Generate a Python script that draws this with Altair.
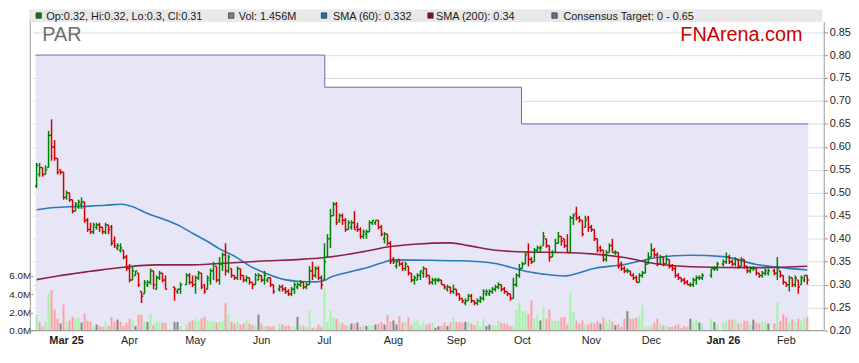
import altair as alt
import pandas as pd

# ---------------- data ----------------
start_date = "2025-02-17"
end_date = "2026-02-11"
holidays = ["2025-04-18", "2025-04-21", "2025-04-25", "2025-06-09",
            "2025-12-25", "2025-12-26", "2026-01-01", "2026-01-26"]

N = None
opens = [
 0.515,0.540,0.555,0.540,0.555,0.625,0.600,0.575,0.550,0.545,
 0.490,0.500,0.485,0.460,0.470,0.475,0.480,0.440,0.420,0.415,
 0.425,0.430,0.425,0.415,0.430,0.425,0.395,0.380,0.375,0.375,
 0.360,0.335,0.310,0.320,0.325,0.285,0.280,0.300,0.305,0.330,
 0.290,0.315,0.325,0.310,N,N,0.295,0.285,0.290,N,
 0.300,0.320,0.305,0.300,0.315,0.325,0.300,0.290,0.310,0.330,
 0.340,0.310,0.345,0.365,0.330,0.335,0.320,0.315,0.335,0.320,
 0.310,0.315,0.305,0.300,0.310,0.320,0.310,0.310,0.315,0.300,
 N,0.290,0.295,0.290,0.285,0.280,0.290,0.295,0.300,0.305,
 0.295,0.300,0.330,0.320,0.335,0.315,0.310,0.360,0.400,0.450,
 0.475,0.440,0.450,0.440,0.420,0.425,0.435,0.425,0.420,0.405,
 0.410,0.415,0.435,0.435,0.440,0.425,0.400,0.410,0.390,0.355,
 0.340,0.355,0.345,0.335,0.340,0.325,0.310,0.310,0.320,0.325,
 0.335,0.320,0.305,0.310,0.310,0.310,0.300,0.290,0.295,0.285,
 0.290,0.280,0.270,0.260,0.265,0.275,0.265,0.260,0.265,0.270,
 0.280,0.280,0.285,0.290,0.295,0.300,0.290,0.285,0.280,0.270,
 0.300,0.320,0.335,0.345,0.370,0.355,0.350,0.375,0.380,0.385,
 0.400,0.385,0.360,0.370,0.390,0.405,0.400,0.385,0.370,0.445,
 0.455,0.445,0.440,0.425,0.445,0.425,0.420,0.400,0.380,0.375,
 0.355,0.370,0.385,0.370,0.370,0.345,0.335,0.330,0.330,0.320,
 0.315,0.305,0.320,0.325,0.345,0.360,0.375,0.365,0.345,0.360,
 0.345,0.355,0.340,0.335,0.320,0.315,0.310,0.305,0.300,0.300,
 0.310,0.315,0.315,N,N,0.320,0.335,0.335,N,0.345,
 0.350,0.360,0.350,0.345,0.355,0.340,0.355,0.340,0.330,0.335,
 0.335,0.325,0.320,0.325,0.325,N,0.330,0.325,0.330,0.320,
 0.305,0.300,0.315,0.300,0.310,0.300,0.310,0.320]
highs = [
 0.565,0.565,0.555,0.560,0.635,0.660,0.615,0.575,0.550,0.545,
 0.505,0.500,0.485,0.480,0.485,0.490,0.480,0.445,0.435,0.435,
 0.435,0.435,0.425,0.435,0.430,0.430,0.405,0.390,0.390,0.375,
 0.365,0.345,0.340,0.330,0.325,0.285,0.310,0.310,0.335,0.330,
 0.320,0.330,0.325,0.320,N,N,0.295,0.290,0.305,N,
 0.325,0.325,0.320,0.320,0.330,0.325,0.300,0.320,0.335,0.350,
 0.340,0.360,0.370,0.390,0.365,0.335,0.320,0.340,0.335,0.320,
 0.320,0.315,0.305,0.325,0.325,0.320,0.330,0.315,0.315,0.300,
 N,0.300,0.300,0.295,0.290,0.295,0.305,0.305,0.310,0.305,
 0.305,0.340,0.350,0.340,0.340,0.320,0.390,0.410,0.465,0.480,
 0.480,0.455,0.455,0.445,0.440,0.440,0.460,0.435,0.425,0.420,
 0.420,0.440,0.440,0.440,0.440,0.430,0.415,0.410,0.395,0.360,
 0.355,0.355,0.350,0.350,0.340,0.325,0.320,0.325,0.330,0.340,
 0.335,0.320,0.315,0.315,0.315,0.310,0.300,0.300,0.295,0.300,
 0.290,0.280,0.270,0.270,0.280,0.280,0.265,0.270,0.275,0.290,
 0.290,0.290,0.295,0.300,0.305,0.300,0.295,0.285,0.280,0.315,
 0.325,0.345,0.350,0.370,0.390,0.360,0.380,0.385,0.385,0.415,
 0.400,0.385,0.375,0.400,0.415,0.405,0.400,0.410,0.450,0.455,
 0.470,0.450,0.440,0.450,0.450,0.430,0.420,0.400,0.385,0.375,
 0.375,0.390,0.400,0.375,0.370,0.350,0.340,0.335,0.330,0.325,
 0.320,0.325,0.330,0.355,0.370,0.390,0.380,0.370,0.365,0.360,
 0.365,0.355,0.345,0.340,0.325,0.315,0.315,0.310,0.305,0.315,
 0.320,0.320,0.325,N,N,0.335,0.340,0.350,N,0.355,
 0.370,0.365,0.355,0.360,0.355,0.360,0.355,0.340,0.340,0.340,
 0.335,0.325,0.330,0.335,0.335,N,0.335,0.360,0.330,0.320,
 0.305,0.320,0.315,0.320,0.310,0.320,0.320,0.320]
lows = [
 0.510,0.535,0.535,0.540,0.555,0.570,0.570,0.540,0.540,0.485,
 0.485,0.480,0.455,0.460,0.465,0.465,0.435,0.415,0.410,0.410,
 0.420,0.415,0.410,0.410,0.410,0.385,0.380,0.375,0.370,0.355,
 0.330,0.305,0.310,0.320,0.295,0.260,0.280,0.295,0.300,0.290,
 0.290,0.310,0.305,0.290,N,N,0.265,0.280,0.280,N,
 0.300,0.300,0.295,0.280,0.310,0.290,0.280,0.290,0.300,0.310,
 0.305,0.300,0.330,0.320,0.325,0.315,0.310,0.310,0.310,0.305,
 0.305,0.300,0.290,0.300,0.310,0.305,0.300,0.305,0.295,0.280,
 N,0.285,0.285,0.280,0.275,0.275,0.280,0.290,0.295,0.290,
 0.290,0.300,0.310,0.315,0.310,0.290,0.310,0.360,0.380,0.450,
 0.430,0.435,0.430,0.415,0.420,0.420,0.420,0.415,0.400,0.400,
 0.400,0.415,0.430,0.430,0.420,0.405,0.390,0.385,0.345,0.345,
 0.335,0.340,0.330,0.330,0.320,0.305,0.300,0.310,0.310,0.315,
 0.315,0.300,0.300,0.300,0.305,0.300,0.290,0.285,0.280,0.280,
 0.275,0.265,0.260,0.255,0.265,0.260,0.255,0.255,0.260,0.265,
 0.275,0.275,0.280,0.285,0.290,0.285,0.280,0.275,0.265,0.270,
 0.295,0.315,0.335,0.345,0.340,0.345,0.350,0.370,0.370,0.385,
 0.380,0.350,0.360,0.370,0.390,0.385,0.380,0.370,0.370,0.430,
 0.440,0.435,0.405,0.425,0.415,0.415,0.395,0.370,0.370,0.350,
 0.350,0.370,0.370,0.365,0.335,0.330,0.325,0.325,0.320,0.310,
 0.305,0.305,0.315,0.325,0.345,0.360,0.360,0.340,0.345,0.340,
 0.345,0.335,0.330,0.315,0.310,0.305,0.300,0.300,0.295,0.295,
 0.300,0.310,0.310,N,N,0.315,0.330,0.330,N,0.340,
 0.345,0.345,0.340,0.340,0.335,0.340,0.335,0.325,0.325,0.330,
 0.320,0.315,0.315,0.320,0.320,N,0.320,0.310,0.315,0.300,
 0.295,0.285,0.295,0.295,0.280,0.300,0.305,0.300]
closes = [
 0.560,0.555,0.540,0.550,0.625,0.600,0.575,0.545,0.545,0.490,
 0.500,0.485,0.460,0.475,0.480,0.480,0.440,0.420,0.415,0.430,
 0.430,0.425,0.415,0.430,0.420,0.390,0.385,0.385,0.380,0.360,
 0.335,0.310,0.330,0.330,0.300,0.275,0.305,0.305,0.330,0.300,
 0.315,0.325,0.310,0.290,N,N,0.290,0.290,0.300,N,
 0.320,0.305,0.300,0.315,0.325,0.295,0.285,0.315,0.330,0.345,
 0.310,0.345,0.365,0.330,0.360,0.320,0.315,0.335,0.320,0.310,
 0.315,0.305,0.300,0.320,0.320,0.310,0.320,0.315,0.300,0.285,
 N,0.295,0.290,0.285,0.280,0.290,0.300,0.300,0.305,0.295,
 0.300,0.330,0.320,0.335,0.315,0.300,0.350,0.400,0.450,0.475,
 0.435,0.450,0.440,0.420,0.435,0.435,0.420,0.420,0.405,0.415,
 0.415,0.435,0.440,0.440,0.425,0.410,0.410,0.390,0.350,0.350,
 0.350,0.345,0.335,0.345,0.325,0.310,0.315,0.320,0.330,0.335,
 0.320,0.305,0.310,0.310,0.310,0.300,0.295,0.295,0.285,0.290,
 0.280,0.270,0.265,0.265,0.275,0.265,0.260,0.265,0.270,0.285,
 0.285,0.285,0.290,0.295,0.300,0.290,0.285,0.280,0.270,0.300,
 0.320,0.335,0.345,0.365,0.355,0.350,0.375,0.380,0.380,0.405,
 0.385,0.360,0.370,0.390,0.405,0.395,0.385,0.370,0.445,0.450,
 0.445,0.440,0.410,0.440,0.425,0.420,0.400,0.375,0.375,0.355,
 0.370,0.385,0.370,0.370,0.340,0.335,0.330,0.330,0.320,0.315,
 0.305,0.320,0.325,0.345,0.360,0.375,0.365,0.345,0.360,0.345,
 0.355,0.340,0.335,0.320,0.315,0.310,0.305,0.300,0.300,0.310,
 0.315,0.315,0.320,N,N,0.335,0.335,0.345,N,0.350,
 0.360,0.350,0.345,0.355,0.340,0.355,0.340,0.330,0.335,0.335,
 0.325,0.320,0.325,0.330,0.330,N,0.325,0.335,0.320,0.305,
 0.300,0.315,0.300,0.315,0.295,0.315,0.320,0.310]
volumes_m = [
 1.7,0.95,0.4,0.95,4.07,4.43,2.3,1.3,0.77,2.85,
 0.95,1.1,1.5,1.3,1.4,0.88,1.87,1.1,0.95,0.5,
 0.66,0.5,0.4,0.95,0.5,1.5,1.0,1.2,0.95,0.5,
 0.84,1.3,1.1,0.5,1.75,1.75,1.0,0.95,1.75,0.59,
 0.95,0.95,0.88,0.88,N,N,0.95,0.95,0.5,N,
 0.66,0.95,1.1,1.3,1.1,1.3,1.5,1.1,0.95,0.95,
 0.88,0.95,0.95,3.0,1.75,0.95,0.77,0.95,0.66,0.77,
 1.1,0.77,0.59,0.5,1.75,0.77,0.5,0.5,0.4,0.5,
 N,0.77,0.66,0.5,0.59,0.4,0.4,1.5,0.59,0.5,
 0.4,2.2,0.3,0.4,0.66,0.4,4.6,0.95,2.2,1.5,
 1.3,0.95,0.8,0.59,0.59,0.77,0.77,0.88,0.4,0.59,
 0.5,0.59,0.5,0.66,0.77,0.95,0.66,1.7,0.95,1.1,
 0.66,1.57,0.88,0.88,1.43,0.59,0.95,1.1,0.66,0.95,
 0.66,0.77,0.88,0.3,0.48,0.48,0.88,0.5,0.88,1.43,
 0.95,0.95,0.88,0.95,0.84,0.77,0.59,1.06,0.4,1.3,
 0.5,0.66,0.59,0.59,1.06,0.84,0.77,0.66,0.5,0.59,
 2.3,3.08,2.12,2.2,1.8,3.3,1.25,1.7,1.1,2.5,
 1.3,2.3,1.06,1.06,1.1,1.43,1.5,0.66,4.2,2.05,
 1.06,0.77,1.1,0.66,0.66,0.88,0.77,1.06,0.77,1.43,
 0.95,1.25,0.95,0.59,0.7,0.4,1.3,2.12,1.3,1.3,
 1.43,1.7,2.8,0.4,0.4,0.59,0.88,1.3,0.77,0.59,
 0.5,0.4,0.4,0.59,0.66,0.3,0.5,0.4,1.3,0.95,
 1.2,0.88,0.77,N,N,1.3,0.95,0.66,N,0.88,
 1.06,1.2,1.2,1.2,0.77,0.77,1.1,1.06,0.77,1.2,
 0.88,0.77,0.95,0.88,0.77,N,0.77,3.1,1.06,1.8,
 1.5,0.95,1.2,0.95,1.3,1.06,1.43,1.456]

sma60_idx = [0, 6, 12, 18, 23, 28, 31, 37, 43, 48, 52, 57, 61, 66, 71, 77, 82, 88, 93, 96,
             98, 104, 109, 115, 119, 131, 142, 153, 158, 164, 169, 176, 181, 185, 196, 207,
             218, 229, 240, 250, 257]
sma60_val = [0.463, 0.468, 0.470, 0.471, 0.473, 0.475, 0.472, 0.455, 0.441, 0.427, 0.412,
             0.394, 0.378, 0.362, 0.341, 0.323, 0.312, 0.307, 0.306, 0.309, 0.316, 0.327,
             0.335, 0.347, 0.354, 0.353, 0.352, 0.346, 0.338, 0.328, 0.323, 0.319, 0.326,
             0.334, 0.344, 0.359, 0.364, 0.361, 0.344, 0.336, 0.332]
sma200_idx = [0, 7, 18, 29, 40, 51, 61, 77, 88, 96, 109, 118, 126, 138, 144, 153, 164,
              175, 185, 196, 207, 218, 240, 257]
sma200_val = [0.311, 0.319, 0.329, 0.338, 0.343, 0.343, 0.346, 0.352, 0.355, 0.359, 0.372,
              0.383, 0.388, 0.391, 0.385, 0.375, 0.371, 0.370, 0.367, 0.359, 0.345, 0.339,
              0.337, 0.34]

target_idx = [-0.27, 96.1, 161.7, 257.3]
target_val = [0.80, 0.73, 0.65, 0.65]

price_ticks = [0.20, 0.25, 0.30, 0.35, 0.40, 0.45, 0.50, 0.55, 0.60, 0.65, 0.70, 0.75, 0.80, 0.85]
volume_ticks = [0, 2e6, 4e6, 6e6]
ticker = "PAR"
brand = "FNArena.com"

# ---------------- build tables ----------------
days = pd.bdate_range(start_date, end_date)
assert len(days) == len(closes) == len(opens) == len(highs) == len(lows) == len(volumes_m)
hol = set(pd.to_datetime(holidays))

UP, DOWN = "#008000", "#d40000"
VUP, VDOWN, VFLAT = "#a3f5a3", "#ffa0a0", "#858585"

rows = []
prev_c = None
for i, d in enumerate(days):
    if closes[i] is None:
        continue
    o, h, l, c, v = opens[i], highs[i], lows[i], closes[i], volumes_m[i]
    ref = prev_c if prev_c is not None else o
    vcol = VUP if c > ref + 1e-9 else (VDOWN if c < ref - 1e-9 else VFLAT)
    pcol = UP if c >= o else DOWN
    rows.append(dict(i=i, o=o, h=h, l=l, c=c, v=v * 1e6, vcol=vcol, pcol=pcol))
    prev_c = c
df = pd.DataFrame(rows)

# month ticks: first trading day of each month
tick_idx, tick_lab, tick_bold = [], [], []
last_month = None
for i, d in enumerate(days):
    if d in hol:
        continue
    if last_month is not None and d.month != last_month:
        first = len(tick_idx) == 0
        tick_idx.append(i)
        if first or d.month == 1:
            tick_lab.append(d.strftime("%b %y"))
            tick_bold.append(True)
        else:
            tick_lab.append(d.strftime("%b"))
            tick_bold.append(False)
    last_month = d.month
ticks_df = pd.DataFrame({"i": tick_idx, "lab": tick_lab, "bold": tick_bold})

# ---------------- layout ----------------
ORIGIN_X, ORIGIN_Y = 33, 8          # page position of plot's top-left corner
W, H = 799, 324
FONT = "Liberation Sans"


def px(page_x):
    return page_x - ORIGIN_X


def py(page_y):
    return page_y - ORIGIN_Y


x_scale = alt.Scale(domain=[0.38, 261.0], nice=False, zero=False)
p_scale = alt.Scale(domain=[0.20, 0.899], nice=False, zero=False)
v_scale = alt.Scale(domain=[0, 35.15e6], nice=False, zero=True)

x_axis = alt.Axis(values=tick_idx, labels=False, grid=True, domain=False,
                  ticks=True, tickSize=3, title=None, orient="bottom")
p_axis = alt.Axis(values=price_ticks, format=".2f", grid=True, domain=False, orient="right",
                  tickSize=3, labelPadding=2, title=None)
v_axis = alt.Axis(values=volume_ticks, labelExpr="format(datum.value / 1000000, '.1f') + 'M'",
                  grid=False, domain=False, orient="left", tickSize=2, labelPadding=0,
                  labelFontSize=10, title=None)

# x-axis carrier (grid + ticks)
xgrid = alt.Chart(ticks_df).mark_rule(opacity=0).encode(
    x=alt.X("i:Q", scale=x_scale, axis=x_axis))

# consensus target area
tdf = pd.DataFrame({"i": target_idx, "t": target_val})
area = alt.Chart(tdf).mark_area(
    interpolate="step-after", fill="#e6e6f6", opacity=1,
    line={"color": "#6a6aa8", "strokeWidth": 1}
).encode(
    x=alt.X("i:Q", scale=x_scale, axis=None),
    y=alt.Y("t:Q", scale=p_scale, axis=p_axis),
    y2=alt.Y2Datum(0.2),
)

# volume bars
vol = alt.Chart(df).mark_bar(size=2).encode(
    x=alt.X("i:Q", scale=x_scale, axis=None),
    y=alt.Y("v:Q", scale=v_scale, axis=v_axis),
    color=alt.Color("vcol:N", scale=None),
)

# moving averages
s60 = alt.Chart(pd.DataFrame({"i": sma60_idx, "s": sma60_val})).mark_line(
    color="#2a7bbb", strokeWidth=1.6, interpolate="monotone"
).encode(x=alt.X("i:Q", scale=x_scale, axis=None), y=alt.Y("s:Q", scale=p_scale, axis=None))
s200 = alt.Chart(pd.DataFrame({"i": sma200_idx, "s": sma200_val})).mark_line(
    color="#8c2248", strokeWidth=1.6, interpolate="monotone"
).encode(x=alt.X("i:Q", scale=x_scale, axis=None), y=alt.Y("s:Q", scale=p_scale, axis=None))

# OHLC bars
base = alt.Chart(df)
hl = base.mark_rule(strokeWidth=1.5).encode(
    x=alt.X("i:Q", scale=x_scale, axis=None),
    y=alt.Y("l:Q", scale=p_scale, axis=None), y2="h:Q",
    color=alt.Color("pcol:N", scale=None))
op = base.transform_calculate(x0="datum.i - 0.55").mark_rule(strokeWidth=1.5).encode(
    x=alt.X("x0:Q", scale=x_scale, axis=None), x2="i:Q",
    y=alt.Y("o:Q", scale=p_scale, axis=None),
    color=alt.Color("pcol:N", scale=None))
cl = base.transform_calculate(x1="datum.i + 0.55").mark_rule(strokeWidth=1.5).encode(
    x=alt.X("i:Q", scale=x_scale, axis=None), x2="x1:Q",
    y=alt.Y("c:Q", scale=p_scale, axis=None),
    color=alt.Color("pcol:N", scale=None))

upper = alt.layer(s60, s200, hl, op, cl)

# month labels below the plot, placed by the x scale
month_norm = alt.Chart(ticks_df).transform_filter("!datum.bold").mark_text(
    baseline="alphabetic", align="center", font=FONT, fontSize=11, color="#1e1e1e"
).encode(x=alt.X("i:Q", scale=x_scale, axis=None), y=alt.value(py(346)), text="lab:N")
month_bold = alt.Chart(ticks_df).transform_filter("datum.bold").mark_text(
    baseline="alphabetic", align="center", font=FONT, fontSize=11, fontWeight="bold",
    color="#1e1e1e"
).encode(x=alt.X("i:Q", scale=x_scale, axis=None), y=alt.value(py(346)), text="lab:N")

# decorations: frame, header band, legend, titles
one = pd.DataFrame({"a": [0]})
frame_col = "#9a9a9a"
band = alt.Chart(one).mark_rect(color="#e8e8e8").encode(
    x=alt.value(px(30)), x2=alt.value(px(830)), y=alt.value(py(8)), y2=alt.value(py(20.5)))
left_line = alt.Chart(one).mark_rule(color=frame_col, strokeWidth=1).encode(
    x=alt.value(px(30.5)), y=alt.value(0), y2=alt.value(H))
right_line = alt.Chart(one).mark_rule(color=frame_col, strokeWidth=1).encode(
    x=alt.value(W), y=alt.value(py(20.5)), y2=alt.value(H))
bottom_line = alt.Chart(one).mark_rule(color=frame_col, strokeWidth=1).encode(
    x=alt.value(px(30)), x2=alt.value(W), y=alt.value(H))

last = df.iloc[-1]
legend_items = [
    (UP, f"Op:{last.o:g}, Hi:{last.h:g}, Lo:{last.l:g}, Cl:{last.c:g}", 39, 46.7),
    ("#808080", f"Vol: {volumes_m[-1]:.3f}M", 233.3, 241),
    ("#1f6fb0", f"SMA (60): {sma60_val[-1]:g}", 327, 336),
    ("#7d0e2c", f"SMA (200): {sma200_val[-1]:g}", 434.5, 440),
    ("#6a6aa0", f"Consensus Target: 0 - {target_val[-1]:g}", 559.7, 568.7),
]
decos = [band]
for col, txt, sx, tx in legend_items:
    decos.append(alt.Chart(one).mark_square(size=30, color=col, opacity=1, stroke="#333333",
                                            strokeWidth=0.7, filled=True).encode(
        x=alt.value(px(sx)), y=alt.value(py(14))))
    decos.append(alt.Chart(one).mark_text(text=txt, align="left", baseline="alphabetic",
                                          font=FONT, fontSize=11, color="#1a1a1a").encode(
        x=alt.value(px(tx)), y=alt.value(py(18.2))))
decos.append(alt.Chart(one).mark_text(text=ticker, align="left", baseline="alphabetic",
                                      font=FONT, fontSize=20, color="#6e6e6e").encode(
    x=alt.value(px(42.7)), y=alt.value(py(39.3))))
decos.append(alt.Chart(one).mark_text(text=brand, align="left", baseline="alphabetic",
                                      font=FONT, fontSize=20, color="#cc0000").encode(
    x=alt.value(px(686.7)), y=alt.value(py(39.3))))

chart = alt.layer(
    xgrid, area, vol, upper, left_line, right_line, bottom_line,
    month_norm, month_bold, *decos
).resolve_scale(
    y="independent"
).properties(
    width=W, height=H,
    padding={"left": ORIGIN_X - 8, "top": ORIGIN_Y - 8, "right": 851 - (ORIGIN_X - 8) - W, "bottom": 20},
    autosize=alt.AutoSizeParams(type="none"),
    background="white",
).configure_view(stroke=None).configure_axis(
    labelFont=FONT, labelFontSize=11, labelColor="#1e1e1e",
    tickColor="#8a8a8a", gridColor="#dcdcdc", gridWidth=1,
)

chart.save("out.html", embed_options={"renderer": "svg", "actions": False})
